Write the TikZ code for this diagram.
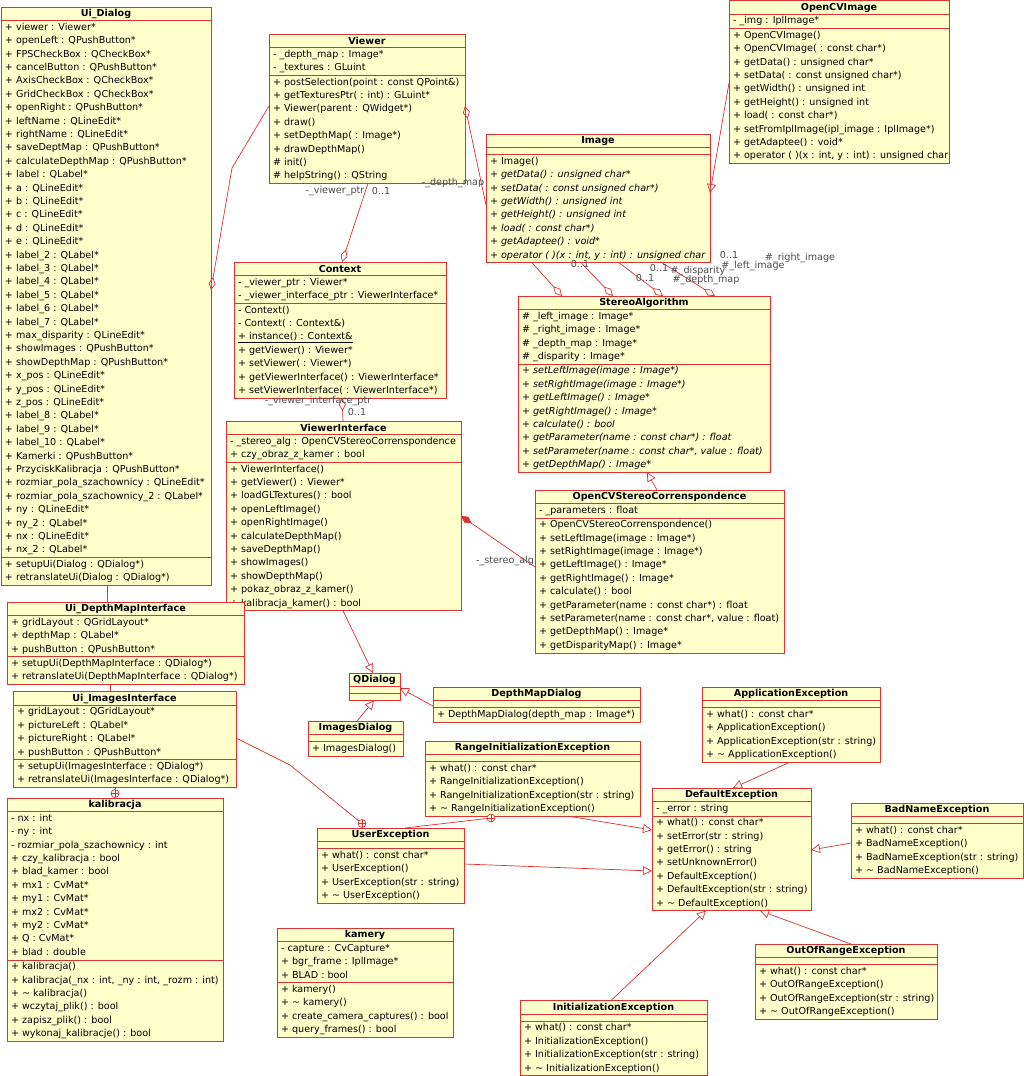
\documentclass[tikz,border=0pt]{standalone}
\usepackage{fontspec}
\setmainfont{DejaVu Sans}
\usetikzlibrary{arrows.meta,calc}
\definecolor{boxline}{RGB}{222,50,50}
\definecolor{boxfill}{RGB}{255,255,204}
\definecolor{lbl}{RGB}{75,75,75}
\newcommand\umlfont{\fontsize{9.6}{13.4}\selectfont}
\tikzset{
 classbox/.style={draw=boxline, fill=boxfill, line width=0.8pt, inner sep=0, outer sep=0},
 sepline/.style={draw=boxline, line width=0.8pt},
 txt/.style={anchor=north west, inner sep=0, outer sep=0, font=\umlfont},
 ttl/.style={inner sep=0, font=\umlfont\bfseries},
 conn/.style={draw=boxline, line width=0.7pt},
 gen/.style={conn, -{Triangle[open, length=9pt, width=9pt]}},
 agg/.style={conn, -{Diamond[open, length=13pt, width=7pt]}},
 comp/.style={conn, -{Diamond[length=13pt, width=7pt, fill=boxline]}},
 rl/.style={font=\umlfont, text=lbl, inner sep=0},
 oplus/.style={circle, draw=boxline, fill=white, line width=0.7pt, minimum size=8pt, inner sep=0,
   path picture={\draw[boxline, line width=0.7pt] (path picture bounding box.north) -- (path picture bounding box.south) (path picture bounding box.west) -- (path picture bounding box.east);}},
}
\newcommand\umlclass[9]{%
 \pgfmathsetmacro\clsA{ifthenelse(#6==0,7,#6*13.4+1)}%
 \pgfmathsetmacro\clsM{ifthenelse(#8==0,7,#8*13.4+1)}%
 \pgfmathsetmacro\clsH{13.5+\clsA+\clsM}%
 \pgfmathsetmacro\clsYa{#3+13.5}%
 \pgfmathsetmacro\clsYb{\clsYa+\clsA}%
 \node[classbox, minimum width=#4pt, minimum height=\clsH pt, anchor=north west] (#1) at (#2,#3) {};
 \draw[sepline] (#2,\clsYa) -- ++(#4,0) (#2,\clsYb) -- ++(#4,0);
 \node[ttl] (#1-t) at (#2+#4/2,#3+7) {#5};
 \node[txt] (#1-a) at (#2+4,\clsYa+0.5) {\begin{tabular}{@{}l@{}}#7\end{tabular}};
 \node[txt] (#1-m) at (#2+4,\clsYb+0.5) {\begin{tabular}{@{}l@{}}#9\end{tabular}};
}
\begin{document}
\catcode`\_=12
\begin{tikzpicture}[x=1pt,y=-1pt]
\useasboundingbox[fill=white] (0,0) rectangle (1024,1076);

\umlclass{uid}{1}{7}{210}{Ui_Dialog}{40}{%
+ viewer : Viewer*\\+ openLeft : QPushButton*\\+ FPSCheckBox : QCheckBox*\\+ cancelButton : QPushButton*\\
+ AxisCheckBox : QCheckBox*\\+ GridCheckBox : QCheckBox*\\+ openRight : QPushButton*\\+ leftName : QLineEdit*\\
+ rightName : QLineEdit*\\+ saveDeptMap : QPushButton*\\+ calculateDepthMap : QPushButton*\\+ label : QLabel*\\
+ a : QLineEdit*\\+ b : QLineEdit*\\+ c : QLineEdit*\\+ d : QLineEdit*\\+ e : QLineEdit*\\
+ label_2 : QLabel*\\+ label_3 : QLabel*\\+ label_4 : QLabel*\\+ label_5 : QLabel*\\+ label_6 : QLabel*\\
+ label_7 : QLabel*\\+ max_disparity : QLineEdit*\\+ showImages : QPushButton*\\+ showDepthMap : QPushButton*\\
+ x_pos : QLineEdit*\\+ y_pos : QLineEdit*\\+ z_pos : QLineEdit*\\+ label_8 : QLabel*\\+ label_9 : QLabel*\\
+ label_10 : QLabel*\\+ Kamerki : QPushButton*\\+ PrzyciskKalibracja : QPushButton*\\
+ rozmiar_pola_szachownicy : QLineEdit*\\+ rozmiar_pola_szachownicy_2 : QLabel*\\+ ny : QLineEdit*\\
+ ny_2 : QLabel*\\+ nx : QLineEdit*\\+ nx_2 : QLabel*}{2}{%
+ setupUi(Dialog : QDialog*)\\+ retranslateUi(Dialog : QDialog*)}

\umlclass{vw}{269}{34}{196}{Viewer}{2}{- _depth_map : Image*\\- _textures : GLuint}{8}{%
+ postSelection(point : const QPoint\&)\\+ getTexturesPtr( : int) : GLuint*\\+ Viewer(parent : QWidget*)\\
+ draw()\\+ setDepthMap( : Image*)\\+ drawDepthMap()\\\# init()\\\# helpString() : QString}

\umlclass{ctx}{234}{262}{212}{Context}{2}{- _viewer_ptr : Viewer*\\- _viewer_interface_ptr : ViewerInterface*}{7}{%
- Context()\\- Context( : Context\&)\\\underline{+ instance() : Context\&}\\+ getViewer() : Viewer*\\
+ setViewer( : Viewer*)\\+ getViewerInterface() : ViewerInterface*\\+ setViewerInterface( : ViewerInterface*)}

\umlclass{img}{486}{134}{224}{Image}{0}{}{8}{%
+ Image()\\\itshape + getData() : unsigned char*\\\itshape + setData( : const unsigned char*)\\
\itshape + getWidth() : unsigned int\\\itshape + getHeight() : unsigned int\\\itshape + load( : const char*)\\
\itshape + getAdaptee() : void*\\\itshape + operator ( )(x : int, y : int) : unsigned char}

\umlclass{ocvi}{729}{0.5}{220}{OpenCVImage}{1}{- _img : IplImage*}{10}{%
+ OpenCVImage()\\+ OpenCVImage( : const char*)\\+ getData() : unsigned char*\\+ setData( : const unsigned char*)\\
+ getWidth() : unsigned int\\+ getHeight() : unsigned int\\+ load( : const char*)\\
+ setFromIplImage(ipl_image : IplImage*)\\+ getAdaptee() : void*\\+ operator ( )(x : int, y : int) : unsigned char}

\umlclass{sa}{518}{296}{252}{StereoAlgorithm}{4}{%
\# _left_image : Image*\\\# _right_image : Image*\\\# _depth_map : Image*\\\# _disparity : Image*}{8}{%
\itshape + setLeftImage(image : Image*)\\\itshape + setRightImage(image : Image*)\\
\itshape + getLeftImage() : Image*\\\itshape + getRightImage() : Image*\\\itshape + calculate() : bool\\
\itshape + getParameter(name : const char*) : float\\\itshape + setParameter(name : const char*, value : float)\\
\itshape + getDepthMap() : Image*}

\umlclass{vi}{226}{421}{235}{ViewerInterface}{2}{- _stereo_alg : OpenCVStereoCorrenspondence\\+ czy_obraz_z_kamer : bool}{11}{%
+ ViewerInterface()\\+ getViewer() : Viewer*\\+ loadGLTextures() : bool\\+ openLeftImage()\\+ openRightImage()\\
+ calculateDepthMap()\\+ saveDepthMap()\\+ showImages()\\+ showDepthMap()\\+ pokaz_obraz_z_kamer()\\
+ kalibracja_kamer() : bool}

\umlclass{osc}{535}{490}{249}{OpenCVStereoCorrenspondence}{1}{- _parameters : float}{10}{%
+ OpenCVStereoCorrenspondence()\\+ setLeftImage(image : Image*)\\+ setRightImage(image : Image*)\\
+ getLeftImage() : Image*\\+ getRightImage() : Image*\\+ calculate() : bool\\
+ getParameter(name : const char*) : float\\+ setParameter(name : const char*, value : float)\\
+ getDepthMap() : Image*\\+ getDisparityMap() : Image*}

\umlclass{udmi}{7}{602}{237}{Ui_DepthMapInterface}{3}{%
+ gridLayout : QGridLayout*\\+ depthMap : QLabel*\\+ pushButton : QPushButton*}{2}{%
+ setupUi(DepthMapInterface : QDialog*)\\+ retranslateUi(DepthMapInterface : QDialog*)}

\umlclass{uii}{13}{691.5}{223}{Ui_ImagesInterface}{4}{%
+ gridLayout : QGridLayout*\\+ pictureLeft : QLabel*\\+ pictureRight : QLabel*\\+ pushButton : QPushButton*}{2}{%
+ setupUi(ImagesInterface : QDialog*)\\+ retranslateUi(ImagesInterface : QDialog*)}

\umlclass{kal}{7}{798}{216}{kalibracja}{11}{%
- nx : int\\- ny : int\\- rozmiar_pola_szachownicy : int\\+ czy_kalibracja : bool\\+ blad_kamer : bool\\
+ mx1 : CvMat*\\+ my1 : CvMat*\\+ mx2 : CvMat*\\+ my2 : CvMat*\\+ Q : CvMat*\\+ blad : double}{6}{%
+ kalibracja()\\+ kalibracja(_nx : int, _ny : int, _rozm : int)\\+ \textasciitilde{} kalibracja()\\
+ wczytaj_plik() : bool\\+ zapisz_plik() : bool\\+ wykonaj_kalibracje() : bool}

\umlclass{qd}{349}{673}{51}{QDialog}{0}{}{0}{}
\umlclass{dmd}{433}{687}{207}{DepthMapDialog}{0}{}{1}{+ DepthMapDialog(depth_map : Image*)}
\umlclass{imd}{308}{721}{95}{ImagesDialog}{0}{}{1}{+ ImagesDialog()}

\umlclass{rie}{425}{741}{215}{RangeInitializationException}{0}{}{4}{%
+ what() : const char*\\+ RangeInitializationException()\\+ RangeInitializationException(str : string)\\
+ \textasciitilde{} RangeInitializationException()}
\umlclass{ue}{317}{828}{147}{UserException}{0}{}{4}{%
+ what() : const char*\\+ UserException()\\+ UserException(str : string)\\+ \textasciitilde{} UserException()}
\umlclass{de}{652}{788}{159}{DefaultException}{1}{- _error : string}{7}{%
+ what() : const char*\\+ setError(str : string)\\+ getError() : string\\+ setUnknownError()\\
+ DefaultException()\\+ DefaultException(str : string)\\+ \textasciitilde{} DefaultException()}
\umlclass{ae}{702}{687}{178}{ApplicationException}{0}{}{4}{%
+ what() : const char*\\+ ApplicationException()\\+ ApplicationException(str : string)\\+ \textasciitilde{} ApplicationException()}
\umlclass{bne}{851}{803}{172}{BadNameException}{0}{}{4}{%
+ what() : const char*\\+ BadNameException()\\+ BadNameException(str : string)\\+ \textasciitilde{} BadNameException()}
\umlclass{oore}{755}{944}{182}{OutOfRangeException}{0}{}{4}{%
+ what() : const char*\\+ OutOfRangeException()\\+ OutOfRangeException(str : string)\\+ \textasciitilde{} OutOfRangeException()}
\umlclass{ie}{520}{1000.5}{187}{InitializationException}{0}{}{4}{%
+ what() : const char*\\+ InitializationException()\\+ InitializationException(str : string)\\+ \textasciitilde{} InitializationException()}
\umlclass{kam}{277}{928}{176}{kamery}{3}{- capture : CvCapture*\\+ bgr_frame : IplImage*\\+ BLAD : bool}{4}{%
+ kamery()\\+ \textasciitilde{} kamery()\\+ create_camera_captures() : bool\\+ query_frames() : bool}

% bend points and nesting symbols
\coordinate (b1) at (232,168);
\coordinate (b2) at (290,765);
\node[oplus] (np1) at (115,793.5) {};
\node[oplus] (np2) at (362,823.5) {};
\node[oplus] (np3) at (491,818) {};

% connectors
\draw[agg] ($(vw.north west)+(0,72)$) -- (b1) -- ($(uid.north east)+(0,283)$);
\draw[agg] ($(vw.south west)+(99,0)$) -- ($(ctx.north west)+(108,0)$);
\draw[agg] ($(img.north west)+(0,71)$) -- ($(vw.north east)+(0,72)$);
\draw[gen] ($(ocvi.north west)+(0,82.5)$) -- ($(img.north east)+(0,59)$);
\draw[agg] ($(img.south west)+(46,0)$) -- ($(sa.north west)+(44,0)$);
\draw[agg] ($(img.south west)+(95,0)$) -- ($(sa.north west)+(95,0)$);
\draw[agg] ($(img.south west)+(133,0)$) -- ($(sa.north west)+(145,0)$);
\draw[agg] ($(img.south west)+(176,0)$) -- ($(sa.north west)+(197,0)$);
\draw[gen] ($(osc.north west)+(122,0)$) -- ($(sa.south west)+(129,0)$);
\draw[comp] ($(osc.north west)+(0,77)$) -- ($(vi.north east)+(0,95)$);
\draw[agg] ($(vi.north west)+(117,0)$) -- ($(ctx.south west)+(108,0)$);
\draw[gen] ($(vi.south west)+(117,0)$) -- ($(qd.north west)+(24,0)$);
\draw[gen] ($(dmd.north west)+(0,19)$) -- ($(qd.north east)+(0,15)$);
\draw[gen] ($(imd.north west)+(49,0)$) -- ($(qd.south west)+(25,0)$);
\draw[conn] ($(uid.south west)+(106,0)$) -- ($(udmi.north west)+(100,0)$);
\draw[conn] ($(udmi.south west)+(103,0)$) -- ($(uii.north west)+(97,0)$);
\draw[conn] ($(uii.south west)+(102,0)$) -- (np1);
\draw[conn] ($(uii.north east)+(0,46.5)$) -- (b2) -- (np2);
\draw[conn] ($(ue.north west)+(88,0)$) -- (np3);
\draw[gen] ($(rie.south west)+(143,0)$) -- ($(de.north west)+(0,42)$);
\draw[gen] ($(ue.north east)+(0,36)$) -- ($(de.north west)+(0,83)$);
\draw[gen] ($(ae.south west)+(88,0)$) -- ($(de.north west)+(81,0)$);
\draw[gen] ($(bne.north west)+(0,40)$) -- ($(de.north east)+(0,62)$);
\draw[gen] ($(ie.north west)+(91,0)$) -- ($(de.south west)+(54,0)$);
\draw[gen] ($(oore.north west)+(96,0)$) -- ($(de.south west)+(108,0)$);

% role labels
\node[rl] (l1) at (335,191) {-_viewer_ptr};
\node[rl] (l2) at (381,191) {0..1};
\node[rl] (l3) at (453,183) {-_depth_map};
\node[rl] (l4) at (318,401) {-_viewer_interface_ptr};
\node[rl] (l5) at (357,412) {0..1};
\node[rl] (l6) at (505,561) {-_stereo_alg};
\node[rl] (l7) at (580,264) {0..1};
\node[rl] (l8) at (659,268) {0..1};
\node[rl] (l9) at (698,271) {\#_disparity};
\node[rl] (l10) at (645,278) {0..1};
\node[rl] (l11) at (706,280) {\#_depth_map};
\node[rl] (l12) at (729,255) {0..1};
\node[rl] (l13) at (753,266) {\#_left_image};
\node[rl] (l14) at (800,258) {\#_right_image};
\end{tikzpicture}
\end{document}
